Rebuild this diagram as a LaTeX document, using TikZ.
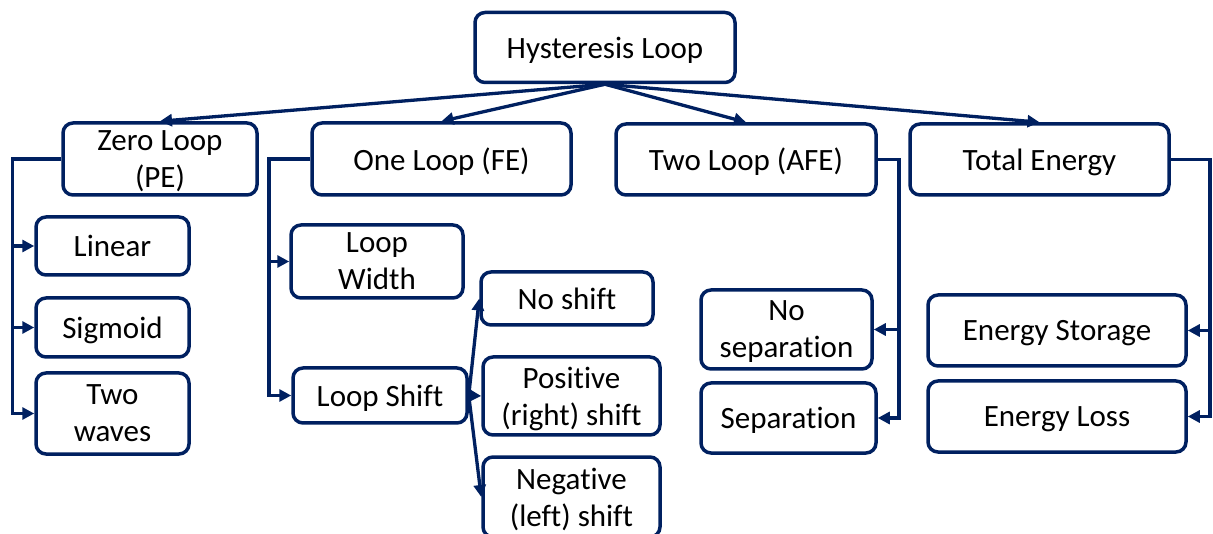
\documentclass[tikz,border=0pt]{standalone}
\usepackage{fontspec}
\setmainfont[Ligatures=NoCommon]{Carlito}
\usetikzlibrary{arrows.meta,calc}
\definecolor{navy}{RGB}{0,32,96}
\begin{document}
\begin{tikzpicture}[x=1pt,y=-1pt,
  box/.style={draw=navy,line width=3.5pt,rounded corners=10pt,align=center,
    inner sep=0pt,text depth=0pt,font=\fontsize{31}{37}\selectfont,text=black},
  conn/.style={draw=navy,line width=3.3pt},
  arr/.style={conn,-{Triangle[length=12pt,width=12pt]}}]
\useasboundingbox (0,0) rectangle (1213,534);
% top
\node[box,minimum width=260pt,minimum height=70pt] (hyst) at (605,47.5) {Hysteresis Loop};
% level 1
\node[box,minimum width=194pt,minimum height=72pt] (zero) at (160,159) {Zero Loop\\(PE)};
\node[box,minimum width=259pt,minimum height=72pt] (one) at (441.5,159) {One Loop (FE)};
\node[box,minimum width=260pt,minimum height=71pt] (two) at (746,159.5) {Two Loop (AFE)};
\node[box,minimum width=259pt,minimum height=71pt] (total) at (1039.5,159.5) {Total Energy};
% zero loop children
\node[box,minimum width=153pt,minimum height=58pt] (linear) at (112.5,246) {Linear};
\node[box,minimum width=153pt,minimum height=59pt] (sigmoid) at (112.5,327.5) {Sigmoid};
\node[box,minimum width=153pt,minimum height=81pt] (twowaves) at (112.5,413.5) {Two\\waves};
% one loop children
\node[box,minimum width=172pt,minimum height=73pt] (width) at (377,261.5) {Loop\\Width};
\node[box,minimum width=174pt,minimum height=55pt] (shift) at (380,395.5) {Loop Shift};
\node[box,minimum width=172pt,minimum height=53pt] (noshift) at (567,298.5) {No shift};
\node[box,minimum width=177pt,minimum height=78pt] (positive) at (571.5,396) {Positive\\(right) shift};
\node[box,minimum width=177pt,minimum height=80pt] (negative) at (571.5,497) {Negative\\(left) shift};
% two loop children
\node[box,minimum width=171pt,minimum height=79pt] (nosep) at (786.5,329.5) {No\\separation};
\node[box,minimum width=175pt,minimum height=70pt] (sep) at (788.5,418) {Separation};
% total energy children
\node[box,minimum width=258pt,minimum height=71pt] (storage) at (1057,330.5) {Energy Storage};
\node[box,minimum width=258pt,minimum height=71pt] (loss) at (1057,416.5) {Energy Loss};
% top arrows
\draw[arr] (hyst.south) -- (zero.north);
\draw[arr] (hyst.south) -- (one.north);
\draw[arr] (hyst.south) -- (two.north);
\draw[arr] (hyst.south) -- (total.north);
% zero loop trunk
\coordinate (zx) at (12.6,159);
\draw[arr] (zero.west) -- (zx) |- (twowaves.west);
\draw[arr] (zx |- linear.west) -- (linear.west);
\draw[arr] (zx |- sigmoid.west) -- (sigmoid.west);
% one loop trunk
\coordinate (ox) at (269,159);
\draw[arr] (one.west) -- (ox) |- (shift.west);
\draw[arr] (ox |- width.west) -- (width.west);
% loop shift fan
\draw[arr] (shift.east) -- (noshift.west);
\draw[arr] (shift.east) -- (positive.west);
\draw[arr] (shift.east) -- (negative.west);
% two loop trunk
\coordinate (tx) at (899,159.5);
\draw[arr] (two.east) -- (tx) |- (sep.east);
\draw[arr] (tx |- nosep.east) -- (nosep.east);
% total energy trunk
\coordinate (ex) at (1210,159.5);
\draw[arr] (total.east) -- (ex) |- (loss.east);
\draw[arr] (ex |- storage.east) -- (storage.east);
\end{tikzpicture}
\end{document}
